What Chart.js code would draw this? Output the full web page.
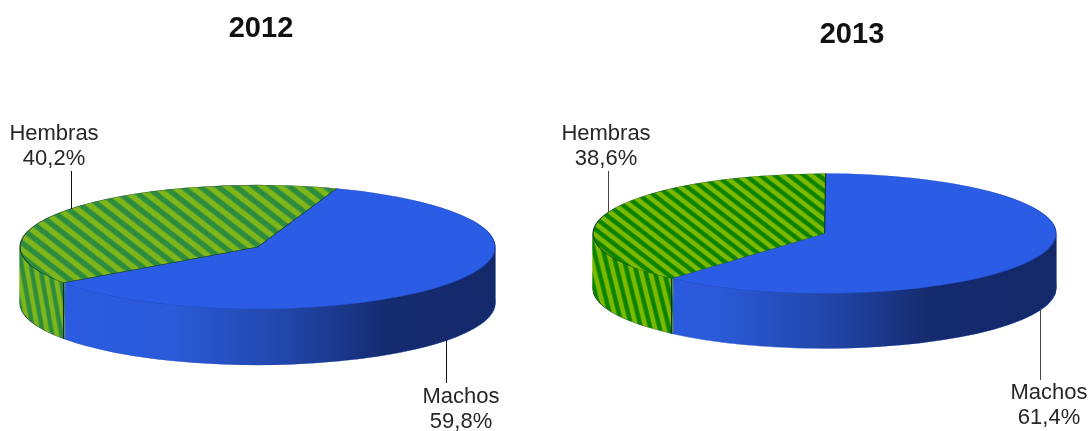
<!DOCTYPE html>
<html><head><meta charset="utf-8">
<script src="https://cdn.jsdelivr.net/npm/chart.js@4"></script>
<style>
html,body{margin:0;padding:0;background:#fff;width:1090px;height:431px;overflow:hidden}
canvas{position:absolute;top:0}
#c1{left:0}
#c2{left:544px}
</style></head><body>
<canvas id="c1" width="522" height="431"></canvas>
<canvas id="c2" width="616" height="431"></canvas>
<script>
const categories = ['Machos', 'Hembras'];
const values2012 = [59.8, 40.2];
const values2013 = [61.4, 38.6];
const titles = ['2012', '2013'];

function stripes(ctx, a, b, period, angle, yScale) {
  const t = document.createElement('canvas');
  t.width = period; t.height = 1;
  const c = t.getContext('2d');
  const g = c.createLinearGradient(0, 0, period, 0);
  g.addColorStop(0, a); g.addColorStop(0.35, a);
  g.addColorStop(0.5, b); g.addColorStop(0.85, b);
  g.addColorStop(1, a);
  c.fillStyle = g; c.fillRect(0, 0, period, 1);
  const p = ctx.createPattern(t, 'repeat');
  p.setTransform(new DOMMatrix().scale(1, 1 / yScale).rotate(angle));
  return p;
}

function sideGradient(ctx, cx, rx) {
  const g = ctx.createLinearGradient(cx - rx, 0, cx + rx, 0);
  g.addColorStop(0, '#2b5ce4');
  g.addColorStop(0.33, '#2a5ad9');
  g.addColorStop(0.58, '#2145a6');
  g.addColorStop(0.78, '#152b70');
  g.addColorStop(1, '#14296a');
  return g;
}

const pie3d = {
  id: 'pie3d',
  beforeDatasetDraw(chart, args, o) {
    const ctx = chart.ctx, arcs = chart.getDatasetMeta(args.index).data, a0 = arcs[0];
    ctx.save();
    ctx.translate(o.cx, o.cy);
    ctx.scale(1, o.k);
    ctx.translate(-a0.x, -a0.y);
    for (let d = o.depth; d >= 1; d--) {
      ctx.save();
      ctx.translate(0, d / o.k);
      // keep the side hatch fixed on the page while the layers move down
      o.sides[1].setTransform(new DOMMatrix().translate(0, -d / o.k).scale(1, 1 / o.k).rotate(o.sideAngle));
      arcs.forEach((arc, i) => {
        const op = arc.options, bg = op.backgroundColor, bw = op.borderWidth, bc = op.borderColor;
        op.backgroundColor = o.sides[i];
        if (d < o.depth) { op.borderColor = o.sides[i]; op.borderWidth = 1; }
        arc.draw(ctx);
        op.backgroundColor = bg;
        op.borderWidth = bw;
        op.borderColor = bc;
      });
      ctx.restore();
    }
  },
  afterDatasetDraw(chart, args, o) {
    const ctx = chart.ctx, arcs = chart.getDatasetMeta(args.index).data;
    ctx.restore();
    ctx.save();
    ctx.strokeStyle = '#0d2a20';
    ctx.lineWidth = 1;
    arcs.forEach(arc => {
      const sin = Math.sin(arc.endAngle), cos = Math.cos(arc.endAngle);
      if (sin > 0) {
        const x = o.cx + arc.outerRadius * cos, y = o.cy + arc.outerRadius * o.k * sin;
        ctx.beginPath(); ctx.moveTo(x, y); ctx.lineTo(x, y + o.depth); ctx.stroke();
      }
    });
    ctx.restore();
  },
  afterDraw(chart, args, o) {
    const ctx = chart.ctx;
    ctx.save();
    ctx.translate(-o.left, 0);
    ctx.font = '22px "Liberation Sans", Arial, sans-serif';
    ctx.textAlign = 'center';
    ctx.textBaseline = 'middle';
    o.labels.forEach(l => {
      ctx.strokeStyle = o.leader; ctx.lineWidth = 1;
      ctx.beginPath(); ctx.moveTo(l.lx + .5, l.y0); ctx.lineTo(l.lx + .5, l.y1); ctx.stroke();
      ctx.fillStyle = '#262626';
      ctx.fillText(l.name, l.x, l.y);
      ctx.fillText(l.value.toFixed(1).replace('.', ',') + '%', l.x, l.y + 25);
    });
    ctx.restore();
  }
};

function build(id, title, values, rotation, cfg) {
  const ctx = document.getElementById(id).getContext('2d');
  const localCx = cfg.cx - cfg.left;
  new Chart(ctx, {
    type: 'pie',
    data: {
      labels: categories,
      datasets: [{
        data: values,
        rotation,
        radius: cfg.rx,
        clip: false,
        backgroundColor: ['#2a5ce6', stripes(ctx, cfg.g1, cfg.g2, cfg.period, -52, cfg.k)],
        borderColor: ['#1f4ab8', '#14402c'],
        borderWidth: 1.2
      }]
    },
    options: {
      responsive: false,
      animation: false,
      events: [],
      plugins: {
        legend: { display: false },
        tooltip: { enabled: false },
        title: {
          display: true,
          text: title,
          color: '#111',
          font: { family: '"Liberation Sans", Arial, sans-serif', size: 29, weight: 'bold', lineHeight: 1.2 },
          padding: { top: cfg.titleTop, bottom: 10 }
        },
        pie3d: {
          cx: localCx, cy: cfg.cy, k: cfg.k, depth: cfg.depth, left: cfg.left, leader: cfg.leader,
          sideAngle: cfg.sideAngle,
          sides: [sideGradient(ctx, localCx, cfg.rx), stripes(ctx, cfg.g1, cfg.g2, cfg.sidePeriod, cfg.sideAngle, cfg.k)],
          labels: [
            { name: categories[0], value: values[0], ...cfg.machos },
            { name: categories[1], value: values[1], ...cfg.hembras }
          ]
        }
      }
    },
    plugins: [pie3d]
  });
}

build('c1', titles[0], values2012, 19.5, {
  left: 0, cx: 257.5, cy: 247, rx: 237.5, k: 0.261, depth: 56, titleTop: 11.6,
  g1: '#2c8b3e', g2: '#7fb71a', period: 11, sidePeriod: 9, sideAngle: -10, leader: '#111',
  machos: { x: 461, y: 397, lx: 446, y0: 340, y1: 383 },
  hembras: { x: 54, y: 134, lx: 71, y0: 171, y1: 209 }
});
build('c2', titles[1], values2013, 0.3, {
  left: 544, cx: 824.5, cy: 233.5, rx: 231.5, k: 0.259, depth: 55, titleTop: 17.6,
  g1: '#0a8200', g2: '#7cba00', period: 9, sidePeriod: 9, sideAngle: -14, leader: '#444',
  machos: { x: 1049, y: 393, lx: 1040, y0: 308, y1: 380 },
  hembras: { x: 606, y: 134, lx: 608, y0: 171, y1: 212 }
});
</script>
</body></html>
